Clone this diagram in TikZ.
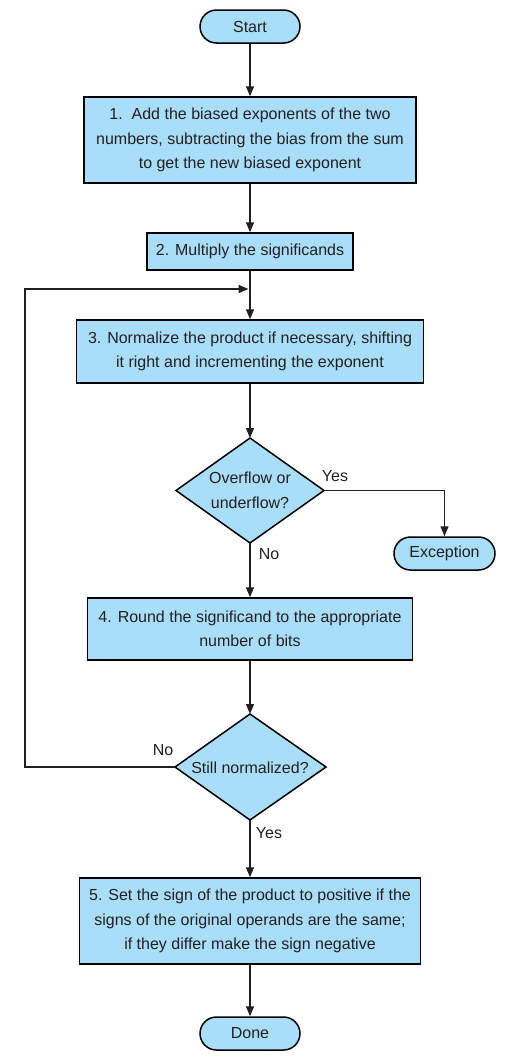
\documentclass[tikz,border=0pt]{standalone}
\usepackage{fontspec}
\setmainfont{Liberation Sans}
\usetikzlibrary{shapes.geometric,arrows.meta}
\definecolor{boxfill}{RGB}{168,222,249}
\definecolor{txt}{RGB}{35,31,32}
\tikzset{
  base/.style={draw=black, fill=boxfill, line width=1.5pt, text=txt, font=\fontsize{16}{24.5}\selectfont, inner sep=0pt},
  stepbox/.style={base, rectangle, align=center},
  term/.style={base, rectangle, rounded corners=16.5pt, minimum height=33pt},
  conn/.style={line width=1.4pt, draw=txt, -{Triangle[length=10pt,width=8pt]}},
  lbl/.style={text=txt, font=\fontsize{16}{19}\selectfont, inner sep=0pt}
}
\begin{document}
\begin{tikzpicture}[x=1pt,y=-1pt]
\useasboundingbox (0,0) rectangle (507,1060);
\node[term, minimum width=100pt] (start) at (250,26.5) {Start};
\node[stepbox, minimum width=332pt, minimum height=86pt] (s1) at (250,140) {1.\ \ Add the biased exponents of the two\\numbers, subtracting the bias from the sum\\to get the new biased exponent};
\node[stepbox, minimum width=206pt, minimum height=37pt] (s2) at (250,251.5) {2. Multiply the significands};
\node[stepbox, minimum width=347pt, minimum height=63pt] (s3) at (250,351.5) {3. Normalize the product if necessary, shifting\\it right and incrementing the exponent};
\path[base, draw=black] (250,438) -- (324,490.5) -- (250,543) -- (176,490.5) -- cycle;
\node[lbl, align=center, font=\fontsize{16}{24.5}\selectfont] (d1) at (250,490.5) {Overflow or\\underflow?};
\coordinate (d1t) at (250,438);
\coordinate (d1r) at (324,490.5);
\coordinate (d1b) at (250,543);
\node[term, minimum width=101pt] (exc) at (444.5,553.5) {Exception};
\node[stepbox, minimum width=325pt, minimum height=62pt] (s4) at (250,629) {4. Round the significand to the appropriate\\number of bits};
\path[base, draw=black] (250,714) -- (326,767) -- (250,820) -- (175,767) -- cycle;
\node[lbl] (d2) at (250,768) {Still normalized?};
\coordinate (d2t) at (250,714);
\coordinate (d2l) at (175,767);
\coordinate (d2b) at (250,820);
\node[stepbox, minimum width=341pt, minimum height=86pt] (s5) at (250,921) {5. Set the sign of the product to positive if the\\signs of the original operands are the same;\\if they differ make the sign negative};
\node[term, minimum width=100pt] (done) at (250,1033.5) {Done};
\coordinate (loopA) at (25,767);
\coordinate (loopB) at (25,289);
\coordinate (loopC) at (250,289);
\coordinate (excTop) at (444.5,490.5);
\draw[conn] (start) -- (s1);
\draw[conn] (s1) -- (s2);
\draw[conn] (s2) -- (s3);
\draw[conn] (s3) -- (d1t);
\draw[conn] (d1r) -- (excTop) -- (exc);
\draw[conn] (d1b) -- (s4);
\draw[conn] (s4) -- (d2t);
\draw[conn] (d2b) -- (s5);
\draw[conn] (s5) -- (done);
\draw[conn, shorten >=1.5pt] (d2l) -- (loopA) -- (loopB) -- (loopC);
\node[lbl] (yes1) at (335,476) {Yes};
\node[lbl] (no1) at (269,554.5) {No};
\node[lbl] (no2) at (163,750.5) {No};
\node[lbl] (yes2) at (269,833) {Yes};
\end{tikzpicture}
\end{document}
